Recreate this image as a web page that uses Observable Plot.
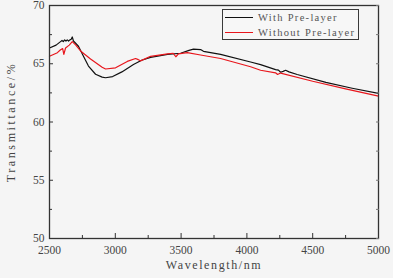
<!DOCTYPE html>
<html>
<head>
<meta charset="utf-8">
<script src="https://cdn.jsdelivr.net/npm/d3@7"></script>
<script src="https://cdn.jsdelivr.net/npm/@observablehq/plot@0.6"></script>
<style>
  body { margin: 0; background: #f5f5f5; }
  #chart { position: relative; width: 393px; height: 278px; }
  .legend {
    position: absolute; left: 222px; top: 9px; width: 137px; height: 31px;
    box-sizing: border-box; border: 1px solid #3a3a3a; background: #f7f7f7;
    font: 10.5px "Liberation Serif", "DejaVu Serif", serif; letter-spacing: 1.3px; color: #555;
  }
  .legend .row { position: absolute; left: 0; height: 13px; line-height: 13px; }
  .legend .swatch { position: absolute; left: 2px; top: 6px; width: 28px; height: 0; border-top: 1.3px solid; }
  .legend .label { position: absolute; left: 35px; top: 0; white-space: nowrap; }
</style>
</head>
<body>
<div id="chart"></div>
<script>
// Transmittance spectra (wavelength in nm, transmittance in %)
const withWavelength = [2500, 2550, 2584, 2595, 2605, 2615, 2625, 2635, 2645, 2655, 2665, 2673, 2682, 2695, 2720, 2760, 2796, 2850, 2900, 2926, 2980, 3050, 3138, 3200, 3268, 3397, 3496, 3560, 3594, 3648, 3670, 3800, 4028, 4104, 4218, 4240, 4256, 4275, 4294, 4320, 4382, 4600, 4800, 5000];
const withT =          [66.35, 66.6, 66.9, 67.0, 66.9, 67.05, 66.95, 67.05, 66.95, 67.05, 67.1, 67.3, 66.95, 66.8, 66.5, 65.6, 64.8, 64.1, 63.85, 63.8, 63.9, 64.3, 64.93, 65.3, 65.55, 65.8, 65.9, 66.15, 66.25, 66.22, 66.07, 65.8, 65.15, 64.93, 64.5, 64.45, 64.27, 64.35, 64.44, 64.3, 64.08, 63.4, 62.9, 62.45];

const withoutWavelength = [2500, 2560, 2584, 2600, 2609, 2622, 2650, 2673, 2700, 2736, 2812, 2900, 2926, 3002, 3091, 3154, 3175, 3192, 3268, 3397, 3440, 3460, 3480, 3547, 3648, 3800, 4028, 4104, 4218, 4233, 4256, 4500, 4750, 5000];
const withoutT =          [65.64, 65.95, 66.2, 66.3, 65.8, 66.35, 66.6, 66.9, 66.6, 66.1, 65.4, 64.7, 64.55, 64.65, 65.2, 65.45, 65.35, 65.25, 65.64, 65.84, 65.9, 65.6, 65.85, 65.95, 65.75, 65.45, 64.74, 64.44, 64.22, 64.08, 64.2, 63.5, 62.85, 62.22];

const seriesNames = ["With Pre-layer", "Without Pre-layer"];
const seriesColors = ["#111111", "#e8161c"];

const xMajor = [2500, 3000, 3500, 4000, 4500, 5000];
const xMinor = [2750, 3250, 3750, 4250, 4750];
const yMajor = [50, 55, 60, 65, 70];
const yMinor = [52.5, 57.5, 62.5, 67.5];

const rows = [
  ...withWavelength.map((w, i) => ({series: seriesNames[0], wavelength: w, t: withT[i]})),
  ...withoutWavelength.map((w, i) => ({series: seriesNames[1], wavelength: w, t: withoutT[i]}))
];

const serif = "Liberation Serif, DejaVu Serif, serif";
const axisInk = "#333";
const labelInk = "#444";

const chart = Plot.plot({
  width: 393,
  height: 278,
  marginLeft: 49,
  marginRight: 15,
  marginTop: 5,
  marginBottom: 40,
  style: {background: "transparent", fontFamily: serif, fontSize: "11px", color: labelInk},
  x: {domain: [2500, 5000]},
  y: {domain: [50, 70]},
  color: {domain: seriesNames, range: seriesColors},
  marks: [
    Plot.line(rows, {x: "wavelength", y: "t", z: "series", stroke: "series", strokeWidth: 1.2}),
    Plot.frame({stroke: axisInk, strokeWidth: 1.3}),
    // inward tick marks
    Plot.axisX(xMajor, {anchor: "bottom", tickSize: -5, fill: "none", stroke: axisInk, label: null}),
    Plot.axisX(xMinor, {anchor: "bottom", tickSize: -3, fill: "none", stroke: axisInk, label: null}),
    Plot.axisY(yMajor, {anchor: "left", tickSize: -4, fill: "none", stroke: axisInk, label: null}),
    Plot.axisY(yMinor, {anchor: "left", tickSize: -3, fill: "none", stroke: axisInk, label: null}),
    Plot.axisY([...yMajor, ...yMinor], {anchor: "right", tickSize: -3, fill: "none", stroke: "#777", label: null}),
    // tick labels
    Plot.axisX(xMajor, {anchor: "bottom", tickSize: 0, tickPadding: 7, label: null, fill: labelInk,
      fontFamily: serif, fontSize: 11.5, tickFormat: d => String(d)}),
    Plot.axisY(yMajor, {anchor: "left", tickSize: 0, tickPadding: 5, label: null, fill: labelInk,
      fontFamily: serif, fontSize: 11.5, tickFormat: d => String(d)}),
    // axis titles
    Plot.text(["Wavelength/nm"], {frameAnchor: "bottom", dy: 30, fontFamily: serif, fontSize: 12,
      fill: labelInk}),
    Plot.text(["Transmittance/%"], {frameAnchor: "left", textAnchor: "middle", rotate: -90, dx: -38,
      fontFamily: serif, fontSize: 12, fill: labelInk})
  ]
});

// widen the axis titles' letter spacing
d3.select(chart).selectAll("text").filter(function () { return this.textContent === "Transmittance/%"; })
  .style("letter-spacing", "2.6px");
d3.select(chart).selectAll("text").filter(function () { return this.textContent === "Wavelength/nm"; })
  .style("letter-spacing", "1.6px");

const host = document.getElementById("chart");
host.appendChild(chart);

const legend = document.createElement("div");
legend.className = "legend";
seriesNames.forEach((name, i) => {
  const row = document.createElement("div");
  row.className = "row";
  row.style.top = (1 + i * 15) + "px";
  row.style.width = "100%";
  const sw = document.createElement("div");
  sw.className = "swatch";
  sw.style.borderColor = seriesColors[i];
  const lab = document.createElement("div");
  lab.className = "label";
  lab.textContent = name;
  row.appendChild(sw);
  row.appendChild(lab);
  legend.appendChild(row);
});
host.appendChild(legend);
</script>
</body>
</html>
